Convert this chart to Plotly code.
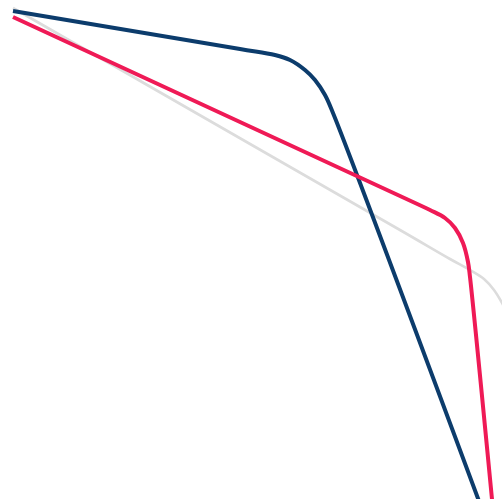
import plotly.graph_objects as go

# Series values (x, y)
gray_x = [13, 400, 450, 470, 484, 494, 502, 510]
gray_y = [8, 230, 259, 270, 279, 290, 303, 320]

blue_x = [13, 240, 275, 290, 305, 315, 325, 333, 486]
blue_y = [11, 49, 55, 60, 70, 80, 95, 113, 520]

pink_x = [13, 400, 430, 445, 455, 463, 468, 470, 494]
pink_y = [17, 196, 210, 218, 228, 243, 262, 277, 520]

fig = go.Figure()
fig.add_trace(go.Scatter(x=gray_x, y=gray_y, mode="lines",
                         line=dict(color="#dcdcdc", width=2.6, shape="spline", smoothing=1)))
fig.add_trace(go.Scatter(x=blue_x, y=blue_y, mode="lines",
                         line=dict(color="#0c3c6c", width=4, shape="spline", smoothing=1)))
fig.add_trace(go.Scatter(x=pink_x, y=pink_y, mode="lines",
                         line=dict(color="#ef1a56", width=4, shape="spline", smoothing=1)))

fig.update_layout(
    width=502, height=499,
    margin=dict(l=0, r=0, t=0, b=0),
    paper_bgcolor="white", plot_bgcolor="white",
    showlegend=False,
    xaxis=dict(range=[0, 502], visible=False, fixedrange=True),
    yaxis=dict(range=[499, 0], visible=False, fixedrange=True),
)
fig.write_html("out.html", config={"displayModeBar": False},
               post_script="document.body.style.margin='0';document.body.style.overflow='hidden';")
